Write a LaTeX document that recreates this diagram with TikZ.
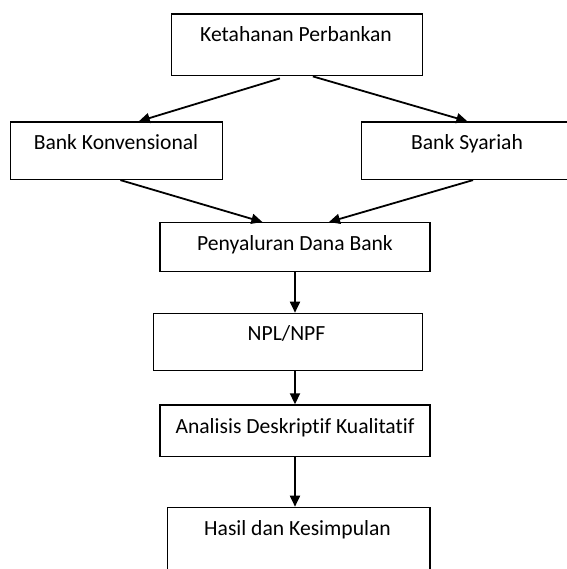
\documentclass[tikz,border=0pt]{standalone}
\usepackage{fontspec}
\setmainfont{Carlito}[Ligatures=CommonOff]
\usetikzlibrary{arrows.meta}
\begin{document}
\begin{tikzpicture}[x=0.5pt,y=-0.5pt,
  box/.style={draw=black,line width=0.7pt,rectangle,inner sep=0pt,anchor=north west},
  lbl/.style={anchor=base,inner sep=0pt,font=\fontsize{10.8pt}{13pt}\selectfont},
  arr/.style={line width=0.9pt,-{Triangle[length=5.5pt,width=5pt]}}]
\useasboundingbox (0,0) rectangle (567,569);
\clip (0,0) rectangle (567,569);
\fill[white] (0,0) rectangle (567,569);
% boxes
\node[box,minimum width=125.5pt,minimum height=30.85pt] (top) at (170.7,13.3) {};
\node[box,minimum width=106pt,minimum height=28.7pt] (konv) at (9.7,121.3) {};
\node[box,minimum width=106pt,minimum height=28.7pt] (syar) at (360.7,121.3) {};
\node[box,minimum width=135pt,minimum height=24.35pt] (peny) at (159.3,222) {};
\node[box,minimum width=134.5pt,minimum height=28.65pt] (npl) at (152.7,312.7) {};
\node[box,minimum width=135pt,minimum height=25.7pt] (anal) at (159.3,404.3) {};
\node[box,minimum width=131.3pt,minimum height=45pt] (hasil) at (166.7,506.7) {};
% labels
\node[lbl] (toplbl) at (296,41.5) {Ketahanan Perbankan};
\node[lbl] (konvlbl) at (116,149.3) {Bank Konvensional};
\node[lbl] (syarlbl) at (467,149.8) {Bank Syariah};
\node[lbl] (penylbl) at (295,250.7) {Penyaluran Dana Bank};
\node[lbl] (npllbl) at (286.5,340.7) {NPL/NPF};
\node[lbl] (anallbl) at (295,433.3) {Analisis Deskriptif Kualitatif};
\node[lbl] (hasillbl) at (297.5,535.5) {Hasil dan Kesimpulan};
% connectors
\draw[arr] ([xshift=-8.5pt,yshift=-1pt]top.south) -- ([xshift=11.2pt]konv.north);
\draw[arr] ([xshift=8pt]top.south) -- ([xshift=0pt]syar.north);
\draw[arr] ([xshift=2pt]konv.south) -- ([xshift=-16.3pt]peny.north);
\draw[arr] ([xshift=2.8pt]syar.south) -- ([xshift=17pt]peny.north);
\draw[arr] (peny.south) -- (peny.south |- npl.north);
\draw[arr] (npl.south -| peny.south) -- (anal.north);
\draw[arr] (anal.south) -- (anal.south |- hasil.north);
\end{tikzpicture}
\end{document}
